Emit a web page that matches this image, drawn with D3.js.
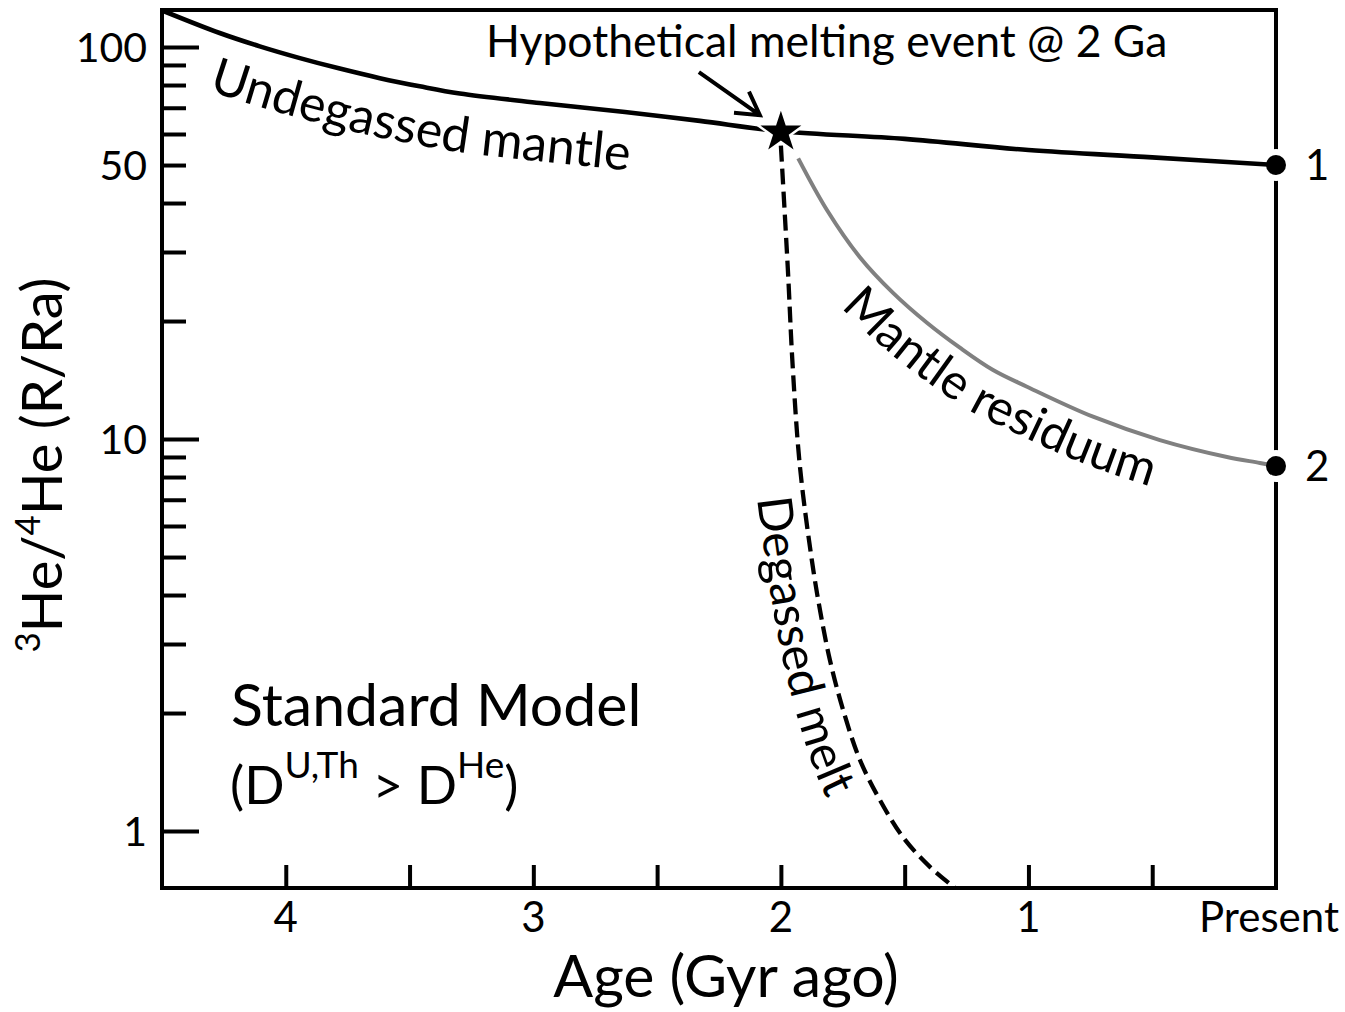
<!DOCTYPE html>
<html>
<head>
<meta charset="utf-8">
<script src="https://cdn.jsdelivr.net/npm/d3@7"></script>
<style>
  body { margin: 0; background: #fff; }
  svg { display: block; }
  text { font-family: Lato, "Open Sans", sans-serif; fill: #000; }
</style>
</head>
<body>
<svg id="chart" width="1345" height="1012"></svg>
<script>
// Evolution curves: [age in Gyr before present, 3He/4He in R/Ra]
const undegassedMantle = [
  [4.5, 124], [4.267, 108.6], [4.105, 100.4], [3.943, 93.7], [3.782, 88.1],
  [3.62, 83.3], [3.459, 79.4], [3.297, 76.1], [2.974, 72], [2.63, 68.3],
  [2.327, 64.8], [2.0, 61], [1.5, 58.3], [1.0, 54.6], [0.5, 52.3], [0.0, 50]
];
const mantleResiduum = [
  [1.93, 52], [1.814, 38.4], [1.681, 29.1], [1.547, 23.6], [1.41, 19.8],
  [1.277, 17.1], [1.143, 15.0], [1.006, 13.6], [0.739, 11.4], [0.469, 9.94],
  [0.198, 9.0], [0.065, 8.69], [0.0, 8.53]
];
const degassedMelt = [
  [2.0, 56], [1.972, 27.2], [1.952, 15.2], [1.923, 8.5], [1.875, 4.91],
  [1.842, 3.66], [1.802, 2.73], [1.749, 2.04], [1.681, 1.52], [1.6, 1.2],
  [1.507, 0.965], [1.398, 0.81], [1.297, 0.716]
];
const meltingEvent = { age: 2.0, ratio: 61 };
const presentDay = [
  { age: 0, ratio: 50, label: "1" },
  { age: 0, ratio: 8.53, label: "2" }
];

// Axis ticks and labels
const xTicks = [4, 3.5, 3, 2.5, 2, 1.5, 1, 0.5];
const xTickLabels = [
  { v: 4, t: "4" }, { v: 3, t: "3" }, { v: 2, t: "2" }, { v: 1, t: "1" }
];
const presentLabel = "Present";
const yTicks = [1, 2, 3, 4, 5, 6, 7, 8, 9, 10, 20, 30, 40, 50, 60, 70, 80, 90, 100];
const yMajorTicks = [1, 10, 100];
const yTickLabels = [1, 10, 50, 100];

const svg = d3.select("#chart");
const L = 162, R = 1276, T = 10, B = 888;

const x = d3.scaleLinear().domain([4.5, 0]).range([L, R]);
const y = d3.scaleLog().domain([0.7156, 124.3]).range([B, T]);

// clip region for the curves
const defs = svg.append("defs");
defs.append("clipPath").attr("id", "plot-clip")
  .append("rect").attr("x", L).attr("y", T).attr("width", R - L).attr("height", B - T);

// y ticks (inside the frame)
const yAxis = svg.append("g").attr("transform", `translate(${L},0)`)
  .call(d3.axisRight(y).tickValues(yTicks).tickSize(24).tickFormat(""));
yAxis.select(".domain").remove();
yAxis.selectAll(".tick line")
  .attr("x2", d => yMajorTicks.includes(d) ? 37 : 24)
  .attr("stroke", "#000").attr("stroke-width", 4);

const yLab = svg.append("g").attr("transform", `translate(${L - 15},0)`)
  .call(d3.axisLeft(y).tickValues(yTickLabels).tickSize(0).tickFormat(d3.format("d")));
yLab.select(".domain").remove();
yLab.selectAll(".tick text")
  .attr("x", 0).attr("dy", "0.36em")
  .style("font-size", "41px").style("font-family", "Lato, sans-serif").attr("fill", "#000");

// x ticks (inside the frame, pointing up)
const xAxis = svg.append("g").attr("transform", `translate(0,${B})`)
  .call(d3.axisTop(x).tickValues(xTicks).tickSize(23).tickFormat(""));
xAxis.select(".domain").remove();
xAxis.selectAll(".tick line").attr("stroke", "#000").attr("stroke-width", 4);

svg.append("g").selectAll("text").data(xTickLabels).join("text")
  .attr("x", d => x(d.v)).attr("y", 932)
  .attr("text-anchor", "middle").style("font-size", "42px").text(d => d.t);
svg.append("text").attr("x", 1339).attr("y", 932).attr("text-anchor", "end")
  .style("font-size", "42px").text(presentLabel);

// frame
svg.append("rect").attr("x", L).attr("y", T).attr("width", R - L).attr("height", B - T)
  .attr("fill", "none").attr("stroke", "#000").attr("stroke-width", 4);

// white halos separating present-day points from the frame
svg.append("g").selectAll("circle").data(presentDay).join("circle")
  .attr("cx", d => x(d.age)).attr("cy", d => y(d.ratio)).attr("r", 16).attr("fill", "#fff");

const line = d3.line().x(d => x(d[0])).y(d => y(d[1])).curve(d3.curveCatmullRom.alpha(0.5));
const curves = svg.append("g").attr("clip-path", "url(#plot-clip)");

const pUndegassed = curves.append("path").datum(undegassedMantle).attr("d", line)
  .attr("fill", "none").attr("stroke", "#000").attr("stroke-width", 4.6);
const pResiduum = curves.append("path").datum(mantleResiduum).attr("d", line)
  .attr("fill", "none").attr("stroke", "#808080").attr("stroke-width", 4);
const pMelt = curves.append("path").datum(degassedMelt).attr("d", line)
  .attr("fill", "none").attr("stroke", "#000").attr("stroke-width", 4.3)
  .attr("stroke-dasharray", "16,7");

// present-day points
svg.append("g").selectAll("circle").data(presentDay).join("circle")
  .attr("cx", d => x(d.age)).attr("cy", d => y(d.ratio)).attr("r", 10).attr("fill", "#000");
svg.append("g").selectAll("text").data(presentDay).join("text")
  .attr("x", d => x(d.age) + 29).attr("y", d => y(d.ratio) + 15)
  .style("font-size", "42px").text(d => d.label);

// melting event star
const sx = x(meltingEvent.age), sy = y(meltingEvent.ratio);
svg.append("path").attr("d", d3.symbol(d3.symbolStar).size(520)())
  .attr("transform", `translate(${sx},${sy + 1})`)
  .attr("fill", "#000").attr("stroke", "#fff").attr("stroke-width", 5)
  .style("paint-order", "stroke");

// annotation arrow
const tip = [sx - 21, sy - 16], tail = [sx - 82, sy - 59];
const ang = Math.atan2(tip[1] - tail[1], tip[0] - tail[0]);
const head = 26, spread = Math.PI / 6;
svg.append("path")
  .attr("d", `M${tail[0]},${tail[1]}L${tip[0]},${tip[1]}` +
    `M${tip[0] - head * Math.cos(ang - spread)},${tip[1] - head * Math.sin(ang - spread)}` +
    `L${tip[0]},${tip[1]}` +
    `L${tip[0] - head * Math.cos(ang + spread)},${tip[1] - head * Math.sin(ang + spread)}`)
  .attr("fill", "none").attr("stroke", "#000").attr("stroke-width", 4)
  .attr("stroke-linejoin", "miter");
svg.append("text").attr("x", 486).attr("y", 57).style("font-size", "44.5px")
  .text("Hypothetical melting event @ 2 Ga");

// curve labels set on paths running parallel to each curve
function offsetPath(node, keep, dist) {
  const len = node.getTotalLength();
  const pts = [];
  for (let s = 0; s <= len; s += 2) pts.push(node.getPointAtLength(s));
  const out = [];
  for (let i = 1; i < pts.length - 1; i++) {
    const a = pts[i - 1], b = pts[i + 1];
    const dx = b.x - a.x, dy = b.y - a.y, n = Math.hypot(dx, dy) || 1;
    if (keep(pts[i])) out.push([pts[i].x - dy / n * dist, pts[i].y + dx / n * dist]);
  }
  return d3.line()(out);
}
const labelDefs = [
  { id: "lab-undegassed", node: pUndegassed.node(), keep: p => p.x >= x(4.24), dist: 58, size: 50, text: "Undegassed mantle" },
  { id: "lab-residuum", node: pResiduum.node(), keep: p => p.x >= x(1.62), dist: 47, size: 49, text: "Mantle residuum" },
  { id: "lab-melt", node: pMelt.node(), keep: p => p.y >= y(7.3), dist: 46, size: 48, text: "Degassed melt" }
];
labelDefs.forEach(l => {
  defs.append("path").attr("id", l.id).attr("d", offsetPath(l.node, l.keep, l.dist));
  svg.append("text").style("font-size", l.size + "px")
    .append("textPath").attr("href", "#" + l.id).text(l.text);
});

// model caption
svg.append("text").attr("x", 231).attr("y", 726).style("font-size", "59px").text("Standard Model");
const cap = svg.append("text").attr("x", 230).attr("y", 804).style("font-size", "53px");
cap.append("tspan").text("(D");
cap.append("tspan").attr("dy", -26).style("font-size", "37px").text("U,Th");
cap.append("tspan").attr("dy", 26).text(" > D");
cap.append("tspan").attr("dy", -26).style("font-size", "37px").text("He");
cap.append("tspan").attr("dy", 26).text(")");

// axis titles
svg.append("text").attr("x", 726).attr("y", 997).attr("text-anchor", "middle")
  .style("font-size", "59px").text("Age (Gyr ago)");
const yt = svg.append("text").attr("transform", "translate(62,465) rotate(-90)")
  .attr("text-anchor", "middle").style("font-size", "56px");
yt.append("tspan").attr("dy", -22).style("font-size", "35px").text("3");
yt.append("tspan").attr("dy", 22).text("He/");
yt.append("tspan").attr("dy", -22).style("font-size", "35px").text("4");
yt.append("tspan").attr("dy", 22).text("He (R/Ra)");
</script>
</body>
</html>
